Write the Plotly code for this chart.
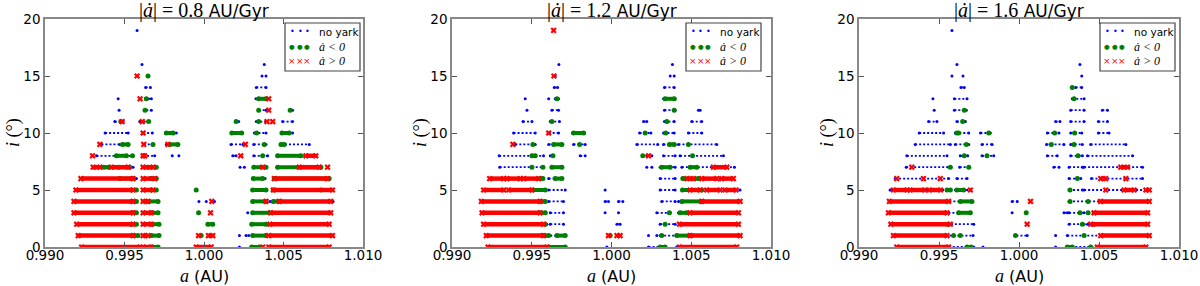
import plotly.graph_objects as go

# ---------------- data: (inclination, a_start[, a_end]) in AU ----------------
P1_NOYARK = [
    (19, 0.99579), (16, 0.9961), (16, 1.00379), (15, 1.00365), (15, 1.0039),
    (14, 0.99633, 0.99663), (14, 1.00329, 1.0039),
    (13, 0.9946), (13, 0.99648, 0.99669), (13, 1.00327),
    (12, 0.99466), (12, 0.99637, 0.99669), (12, 1.00344, 1.0039), (12, 1.00557),
    (11, 0.99439, 0.99491), (11, 0.99596, 0.99648), (11, 1.00218), (11, 1.00329, 1.0039), (11, 1.00494, 1.00557),
    (10, 0.99378, 0.99523), (10, 0.99617, 0.99675), (10, 0.99757, 0.99826), (10, 1.00317, 1.0039), (10, 1.00557),
    (9, 0.99355, 0.9947), (9, 0.99621, 0.99675), (9, 0.99763, 0.99836), (9, 1.0017, 1.00244), (9, 1.00313, 1.0039), (9, 1.00484, 1.00662),
    (8, 0.99324, 0.99554), (8, 0.99617, 0.9969), (8, 0.998), (8, 0.99842), (8, 1.00181, 1.00202), (8, 1.00313, 1.004), (8, 1.00463, 1.00662),
    (7, 0.99345, 0.99554), (7, 0.99617, 0.997), (7, 1.00227), (7, 1.00254), (7, 1.00313, 1.0039), (7, 1.00463, 1.00735),
    (6, 0.99226, 0.99575), (6, 0.99617, 0.997), (6, 1.0031, 1.00384), (6, 1.00442, 1.00787),
    (5, 0.99194, 0.99575), (5, 0.99617, 0.997), (5, 1.00306, 1.0039), (5, 1.00436, 1.00808),
    (4, 0.99182, 0.99575), (4, 0.99617, 0.99711), (4, 0.99968), (4, 1.00014), (4, 1.00066), (4, 1.00306, 1.0039), (4, 1.00415, 1.00812),
    (3, 0.99182, 0.99575), (3, 0.99617, 0.99711), (3, 1.00275), (3, 1.00306, 1.00411), (3, 1.00419, 1.00797),
    (2, 0.99199, 0.99575), (2, 0.99617, 0.99717), (2, 1.003, 1.0039), (2, 1.00415, 1.00787),
    (1, 0.99209, 0.99585), (1, 0.99617, 0.99717), (1, 1.00223), (1, 1.00264), (1, 1.00281), (1, 1.00306, 1.0039), (1, 1.00407, 1.00808),
    (0, 0.9923, 0.99596), (0, 0.99617, 0.99711), (0, 1.00223), (0, 1.003, 1.00369), (0, 1.00407, 1.00787),
]
P1_NEG = [
    (15, 0.99648), (13, 0.99637), (13, 1.00344, 1.0039),
    (12, 0.99629), (12, 1.00344), (12, 1.00542),
    (11, 0.99477), (11, 0.99652), (11, 1.00202), (11, 1.00344),
    (10, 0.99763, 0.99805), (10, 1.00175, 1.00237), (10, 1.00331), (10, 1.0049, 1.00536),
    (9, 0.99487, 0.99523), (9, 0.99679), (9, 0.99784, 0.99836), (9, 1.00379), (9, 1.00484, 1.00505),
    (8, 0.99449, 0.99512), (8, 0.9955), (8, 1.00369), (8, 1.00463, 1.00609),
    (7, 0.9937, 0.994), (7, 0.99462, 0.99533), (7, 0.99648, 0.997), (7, 1.00313, 1.0039), (7, 1.00463, 1.00735),
    (6, 0.9947, 0.99554), (6, 0.99663, 0.997), (6, 1.0031, 1.00369), (6, 1.00442, 1.00787),
    (5, 0.99543, 0.99575), (5, 0.99669, 0.997), (5, 0.99951), (5, 1.00306, 1.0039), (5, 1.00436, 1.00735),
    (4, 0.99543, 0.99575), (4, 0.99648, 0.99711), (4, 1.00306, 1.0039), (4, 1.00436, 1.00473),
    (3, 0.99554, 0.99575), (3, 0.99669, 0.99711), (3, 0.99966), (3, 1.00306, 1.00411),
    (2, 0.99543, 0.99575), (2, 0.99669, 0.99717), (2, 1.00024, 1.00055), (2, 1.003, 1.0039),
    (1, 0.99554, 0.99585), (1, 0.99669, 0.99717), (1, 0.99982), (1, 1.00306, 1.0039),
    (0, 0.99669, 0.99711), (0, 1.003, 1.00348),
]
P1_POS = [
    (15, 0.99579), (13, 0.99598), (13, 1.00407), (12, 1.00407),
    (11, 0.99485), (11, 0.99612), (11, 1.00396), (11, 1.00432),
    (10, 0.99617),
    (9, 0.99345), (9, 0.99621), (9, 0.99773), (9, 1.0026),
    (8, 0.99299), (8, 0.99617, 0.99627), (8, 1.00231), (8, 1.00641, 1.00703),
    (7, 0.99303, 0.99345), (7, 0.99418, 0.99523), (7, 0.99617, 0.9968), (7, 1.00369), (7, 1.00599, 1.00724), (7, 1.00777),
    (6, 0.99226, 0.99554), (6, 0.99617, 0.9969), (6, 1.00442, 1.00777),
    (5, 0.99194, 0.99554), (5, 0.99617, 0.99679), (5, 1.00436, 1.00808),
    (4, 0.99182, 0.99554), (4, 0.99617, 0.99648), (4, 1.00049), (4, 1.0039), (4, 1.00473, 1.00797),
    (3, 0.99182, 0.99554), (3, 0.99617, 0.99669), (3, 1.00041), (3, 1.00419, 1.00797),
    (2, 0.99199, 0.99554), (2, 0.99617, 0.99669), (2, 1.00415, 1.00787),
    (1, 0.99209, 0.99554), (1, 0.99617, 0.99648), (1, 0.99966), (1, 1.00028, 1.00055), (1, 1.00407, 1.00808),
    (0, 0.9923, 0.99596), (0, 0.99617, 0.99669), (0, 0.99951, 1.00045), (0, 1.00369), (0, 1.00407, 1.00787),
]

P2_NOYARK = [
    (16, 0.9967), (16, 1.00382), (15, 0.99647), (15, 1.00368), (15, 1.00393),
    (14, 0.99641, 0.99662), (14, 1.00332, 1.00393),
    (13, 0.99459), (13, 0.99606), (13, 0.99647, 0.99668), (13, 1.00326, 1.00399),
    (12, 0.9947), (12, 0.99626, 0.99668), (12, 1.00332, 1.00399), (12, 1.00545), (12, 1.00556),
    (11, 0.99445, 0.99501), (11, 0.99616, 0.99674), (11, 1.00201, 1.00221), (11, 1.00332, 1.00393), (11, 1.00503, 1.00566),
    (10, 0.99386, 0.99522), (10, 0.99606, 0.99668), (10, 0.99756, 0.99831), (10, 1.00176, 1.00247), (10, 1.00326, 1.00393), (10, 1.00482, 1.00566),
    (9, 0.99397, 0.99522), (9, 0.99606, 0.99689), (9, 0.99762, 0.99835), (9, 1.00159, 1.0029), (9, 1.00326, 1.00399), (9, 1.0042, 1.0066),
    (8, 0.99296, 0.99574), (8, 0.99616, 0.99637), (8, 0.99804, 0.99835), (8, 1.00221), (8, 1.00253), (8, 1.00326, 1.00399), (8, 1.0043, 1.00702),
    (7, 0.99299, 0.99564), (7, 0.99626, 0.99689), (7, 1.00221), (7, 1.00253), (7, 1.00305, 1.00399), (7, 1.00441, 1.00771),
    (6, 0.99236, 0.99553), (6, 0.99606, 0.99689), (6, 1.00305, 1.00399), (6, 1.00447, 1.00764),
    (5, 0.99198, 0.99585), (5, 0.99606, 0.9971), (5, 0.9996), (5, 1.00305, 1.00399), (5, 1.00445, 1.00806),
    (4, 0.99184, 0.99585), (4, 0.99606, 0.99699), (4, 0.9996, 0.99981), (4, 1.00044, 1.00071), (4, 1.00315, 1.00399), (4, 1.0042, 1.00806),
    (3, 0.99188, 0.99585), (3, 0.99616, 0.99699), (3, 0.9996), (3, 1.00044), (3, 1.00284, 1.00368), (3, 1.0042, 1.00796),
    (2, 0.99198, 0.99595), (2, 0.99616, 0.99699), (2, 1.00034, 1.00054), (2, 1.00305, 1.00399), (2, 1.00426, 1.00796),
    (1, 0.99215, 0.99595), (1, 0.99616, 0.9971), (1, 1.00232), (1, 1.00284), (1, 1.00305, 1.00806),
    (0, 0.99226, 0.99595), (0, 0.99606, 0.9971), (0, 0.99971), (0, 1.00232, 1.00326), (0, 1.00409, 1.00785),
]
P2_NEG = [
    (13, 0.99658), (13, 1.00336, 1.00393), (12, 1.00393),
    (11, 0.99626), (11, 1.00347),
    (10, 0.99762, 0.99825), (10, 1.00211), (10, 1.0034),
    (9, 0.99507), (9, 0.99637, 0.99689), (9, 0.998), (9, 1.00363, 1.00393), (9, 1.00482),
    (8, 0.99501, 0.99522), (8, 0.99633), (8, 1.00196), (8, 1.00508),
    (7, 0.99501), (7, 0.9957), (7, 0.99626, 0.99689), (7, 1.00315, 1.00368), (7, 1.00493, 1.00535),
    (6, 0.99553, 0.9957), (6, 0.99647, 0.99689), (6, 1.00447, 1.00545),
    (5, 0.99507, 0.99585), (5, 1.00445, 1.00566),
    (4, 0.99553, 0.99585), (4, 1.00441, 1.00566),
    (3, 0.99553, 0.99585), (3, 1.00363), (3, 1.0043, 1.00472),
    (2, 0.99585), (2, 1.00336),
    (1, 0.99574, 0.99606), (1, 0.99658, 0.9971), (1, 0.99992), (1, 1.00315), (1, 1.00409, 1.00493),
    (0, 0.99606, 0.9971), (0, 1.00305, 1.00336),
]
P2_POS = [
    (19, 0.99637), (15, 0.99639), (10, 0.99606), (9, 0.99382), (8, 1.00232),
    (7, 1.00639, 1.00723),
    (6, 0.99236, 0.99324), (6, 0.99345, 0.99428), (6, 0.99449, 0.99543), (6, 1.00472, 1.00514), (6, 1.00566, 1.0066), (6, 1.00691, 1.00764),
    (5, 0.99198, 0.99324), (5, 0.99355, 0.99501), (5, 1.00493, 1.00556), (5, 1.00597, 1.00681), (5, 1.00712, 1.00781),
    (4, 0.99184, 0.99553), (4, 1.00566, 1.00806),
    (3, 0.99188, 0.99553), (3, 1.00493, 1.00796),
    (2, 0.99198, 0.99574), (2, 1.00426, 1.00796),
    (1, 0.99215, 0.99574), (1, 0.99981), (1, 1.00034, 1.00054), (1, 1.00493, 1.00806),
    (0, 0.99226, 0.99595), (0, 1.00426, 1.00785),
]

P3_NOYARK = [
    (19, 0.99581), (16, 0.99612), (16, 1.00381), (15, 0.99581), (15, 0.9965), (15, 1.00392),
    (14, 0.99637, 0.99658), (14, 1.00354, 1.00392),
    (13, 0.99462), (13, 0.99596, 0.99675), (13, 1.00333, 1.00407),
    (12, 0.9947), (12, 0.99596, 0.99671), (12, 1.00323, 1.00407), (12, 1.00521, 1.00553),
    (11, 0.99435, 0.99487), (11, 0.99612, 0.99665), (11, 1.00229, 1.00256), (11, 1.00323, 1.00407), (11, 1.00496, 1.00553),
    (10, 0.99376, 0.99529), (10, 0.99602, 0.99686), (10, 0.99759, 0.99821), (10, 1.00177, 1.0025), (10, 1.00323, 1.00392), (10, 1.00496, 1.00563),
    (9, 0.99351, 0.99571), (9, 0.99602, 0.99686), (9, 0.99769, 0.99832), (9, 1.00172, 1.00281), (9, 1.00323, 1.00396), (9, 1.00448, 1.00668),
    (8, 0.99299, 0.9955), (8, 0.99633, 0.99679), (8, 0.99769, 0.99842), (8, 1.00177, 1.00239), (8, 1.00323, 1.00396), (8, 1.00428, 1.0071),
    (7, 0.99295, 0.9956), (7, 0.99629, 0.9969), (7, 1.00218, 1.0025), (7, 1.00313, 1.00396), (7, 1.00407, 1.00772),
    (6, 0.99226, 0.9956), (6, 0.99612, 0.99675), (6, 1.00313, 1.00386), (6, 1.00453, 1.00772),
    (5, 0.99194, 0.99696), (5, 1.00313, 1.00396), (5, 1.00407, 1.00804),
    (4, 0.9919, 0.99706), (4, 0.99957, 0.99989), (4, 1.00313, 1.00814),
    (3, 0.99184, 0.99696), (3, 0.99957), (3, 1.00281, 1.00302), (3, 1.00313, 1.00407), (3, 1.0043, 1.00804),
    (2, 0.99199, 0.99717), (2, 1.00313, 1.00407), (2, 1.00428, 1.00804),
    (1, 0.99215, 0.99713), (1, 0.99984, 1.00051), (1, 1.00229), (1, 1.00302, 1.00814),
    (0, 0.99236, 0.99717), (0, 0.99775), (0, 1.00229), (0, 1.00302, 1.00793),
]
P3_NEG = [
    (14, 1.00333), (13, 1.00344), (12, 0.99658), (11, 0.99648),
    (10, 0.99612, 0.99623), (10, 0.99811), (10, 1.00223), (10, 1.00348),
    (9, 0.99671), (9, 1.00202), (9, 1.00344),
    (8, 0.99658), (8, 0.998), (8, 1.00369),
    (7, 0.99571), (7, 0.99686), (6, 1.00365),
    (5, 0.9955, 0.99571), (5, 0.99612, 0.99654), (5, 1.00319),
    (4, 0.99633, 0.99706), (4, 1.00319), (4, 1.00432),
    (3, 0.99623, 0.99696), (3, 1.00045), (3, 1.00381), (3, 1.00432),
    (2, 0.9955), (2, 1.00396), (2, 1.00469),
    (1, 0.99591), (1, 0.99633), (1, 0.99978), (1, 1.00407),
    (0, 0.99675), (0, 0.997), (0, 1.00302, 1.00333), (0, 1.00448),
]
P3_POS = [
    (7, 0.9933), (7, 1.00636, 1.00678),
    (6, 0.99236), (6, 0.99403), (6, 0.99508), (6, 1.00511, 1.00542), (6, 1.00668),
    (5, 0.99215, 0.993), (5, 0.9932, 0.9941), (5, 0.9944, 0.9951), (5, 0.99696), (5, 1.00542), (5, 1.00657, 1.0072), (5, 1.00793, 1.00814),
    (4, 0.9919, 0.9956), (4, 1.00072), (4, 1.0051, 1.00814),
    (3, 0.99184, 0.9955), (3, 1.00469, 1.00804),
    (2, 0.99199, 0.99571), (2, 1.00051), (2, 1.00448, 1.00804),
    (1, 0.99215, 0.9955), (1, 1.00511, 1.00814),
    (0, 0.99236, 0.9956), (0, 1.0049, 1.00793),
]

PANELS = [
    ("0.8", P1_NOYARK, P1_NEG, P1_POS),
    ("1.2", P2_NOYARK, P2_NEG, P2_POS),
    ("1.6", P3_NOYARK, P3_NEG, P3_POS),
]
X_TICKS = [0.990, 0.995, 1.000, 1.005, 1.010]
X_TICKTEXT = ["0.990", "0.995", "1.000", "1.005", "1.010"]
Y_TICKS = [0, 5, 10, 15, 20]
SERIES_NAMES = ["no yark", "ȧ < 0", "ȧ > 0"]

# ---------------- layout geometry (pixels in a 1200 x 286 page) ----------------
W, H = 1200, 286
PANEL_X = [(45, 363), (452, 771), (859, 1179)]
PLOT_TOP, PLOT_BOTTOM = 19, 247
LEGEND_LEFT = [285, 686, 1100]

BLUE, GREEN, RED = "#0000ff", "#008000", "#ff0000"
SERIF = "Liberation Serif"
SANS = "DejaVu Sans"


def px(x):
    return x / W


def py(y):
    return 1 - y / H


def build(segs):
    xs, ys = [], []
    for s in segs:
        i = s[0]
        if len(s) == 2:
            xs += [s[1], None]
            ys += [i, None]
        else:
            xs += [s[1], s[2], None]
            ys += [i, i, None]
    return xs, ys


fig = go.Figure()
styles = [
    dict(color=BLUE, lw=1.8, sym="circle", size=3, dash="2px,2px"),
    dict(color=GREEN, lw=4, sym="circle", size=5, dash="solid"),
    dict(color=RED, lw=4.5, sym="x", size=5.5, dash="solid"),
]

annotations = []
shapes = []
for k, (rate, nb, ng, nr) in enumerate(PANELS):
    xa = "x" if k == 0 else f"x{k+1}"
    ya = "y" if k == 0 else f"y{k+1}"
    for data, st, name in zip((nb, ng, nr), styles, SERIES_NAMES):
        xs, ys = build(data)
        fig.add_trace(go.Scatter(
            x=xs, y=ys, mode="lines+markers", name=name, showlegend=False,
            xaxis=xa, yaxis=ya, connectgaps=False, hoverinfo="skip",
            line=dict(color=st["color"], width=st["lw"], dash=st["dash"]),
            marker=dict(color=st["color"], symbol=st["sym"], size=st["size"], line=dict(width=0)),
        ))
    x0, x1 = PANEL_X[k]
    axis_common = dict(showgrid=False, zeroline=False, showline=True, linecolor="#888888",
                       linewidth=1.5, mirror="ticks", ticks="inside", ticklen=5,
                       tickcolor="#555555", tickwidth=1, automargin=False,
                       tickfont=dict(family=SANS, size=13.5, color="black"))
    fig.layout[f"xaxis{'' if k == 0 else k+1}"] = dict(
        domain=[px(x0), px(x1)], range=[0.990, 1.010], tickvals=X_TICKS, ticktext=X_TICKTEXT,
        anchor=ya, ticklabelstandoff=-5, **axis_common)
    fig.layout[f"yaxis{'' if k == 0 else k+1}"] = dict(
        domain=[py(PLOT_BOTTOM), py(PLOT_TOP)], range=[0, 20], tickvals=Y_TICKS,
        anchor=xa, **axis_common)

    cx = (x0 + x1) / 2
    # title
    annotations.append(dict(
        x=px(cx), y=py(10), xref="paper", yref="paper", xanchor="center", yanchor="middle",
        showarrow=False, borderpad=0,
        text=f"<span style='font-family:{SERIF};font-size:20px'>|<i>ȧ</i>| = {rate}</span> AU/Gyr",
        font=dict(family=SANS, size=17, color="black")))
    # x label
    annotations.append(dict(
        x=px(cx), y=py(276), xref="paper", yref="paper", xanchor="center", yanchor="middle",
        showarrow=False, borderpad=0,
        text=f"<span style='font-family:{SERIF};font-size:18px'><i>a</i></span> (AU)",
        font=dict(family=SANS, size=16, color="black")))
    # y label
    annotations.append(dict(
        x=px(x0 - 32), y=py(133), xref="paper", yref="paper", xanchor="center", yanchor="middle",
        showarrow=False, textangle=-90,
        text="<i>i</i> (°)",
        font=dict(family=SERIF, size=18, color="black")))

    # legend box
    lx = LEGEND_LEFT[k]
    shapes.append(dict(type="rect", xref="paper", yref="paper",
                       x0=px(lx), x1=px(lx + 75), y0=py(71), y1=py(23),
                       line=dict(color="#444444", width=1.2), fillcolor="white", layer="above"))
    rows = [(32, BLUE, "•", 8, SERIES_NAMES[0], SANS, 10.5),
            (47, GREEN, "●", 6.5, f"<i>{SERIES_NAMES[1]}</i>", SERIF, 12),
            (61, RED, "×", 9, f"<i>{SERIES_NAMES[2]}</i>", SERIF, 12)]
    for yy, col, glyph, gsize, label, fam, fsize in rows:
        for dx in (7, 15, 22):
            annotations.append(dict(
                x=px(lx + dx), y=py(yy), xref="paper", yref="paper", xanchor="center",
                yanchor="middle", showarrow=False, text=glyph, borderpad=0,
                font=dict(family=SANS, size=gsize, color=col)))
        annotations.append(dict(
            x=px(lx + 33), y=py(yy), xref="paper", yref="paper", xanchor="left",
            yanchor="middle", showarrow=False, text=label, borderpad=0,
            font=dict(family=fam, size=fsize, color="black")))

fig.update_layout(
    width=W, height=H, margin=dict(l=0, r=0, t=0, b=0, autoexpand=False),
    paper_bgcolor="white", plot_bgcolor="white",
    showlegend=False, annotations=annotations, shapes=shapes,
)
fig.write_html("out.html", config={"displayModeBar": False},
               post_script="document.body.style.margin='0';document.body.style.overflow='hidden';")
